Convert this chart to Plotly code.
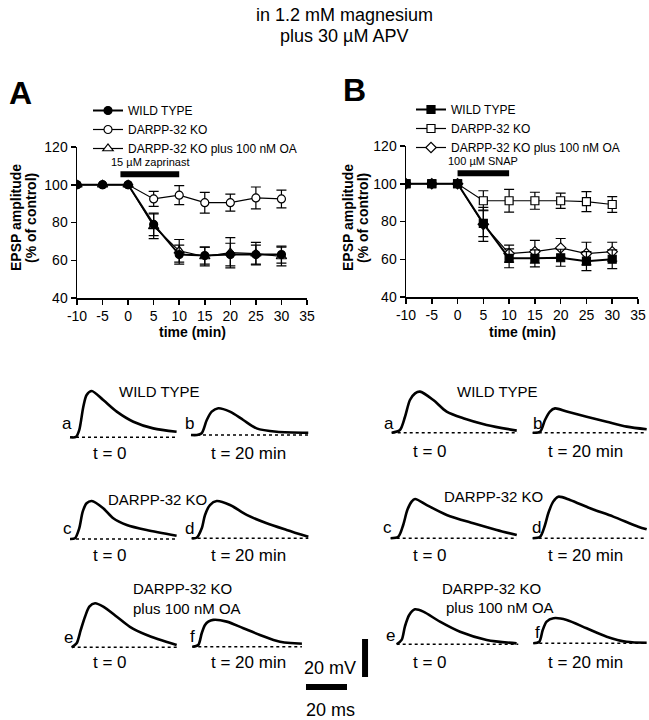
import plotly.graph_objects as go

W, H = 649, 720
FONT = "Liberation Sans, Arial, sans-serif"


def fx(p):
    return p / W


def fy(p):
    return 1 - p / H


# ---------------- summary data ----------------
time_min = [-10, -5, 0, 5, 10, 15, 20, 25, 30]
x_ticks = [-10, -5, 0, 5, 10, 15, 20, 25, 30, 35]
x_tick_labels = ["-10", "-5", "0", "5", "10", "15", "20", "25", "30", "35"]
y_ticks = [40, 60, 80, 100, 120]

A_wt = [100, 100, 100, 79, 63, 62.5, 63, 63, 63]
A_wt_err = [0, 0, 0, 6, 5, 4.5, 6, 5, 4.5]
A_ko = [100, 100, 100, 92.5, 94.5, 90.5, 90.5, 93, 92.5]
A_ko_err = [0, 0, 0, 4, 5, 5.5, 4.5, 5.8, 4.7]
A_oa = [100, 100, 100, 78, 65, 62, 64, 63.5, 62]
A_oa_err = [0, 0, 0, 6.5, 6, 5, 8, 6, 5]

B_wt = [100, 100, 100, 79, 60.5, 60.5, 60.8, 59, 60]
B_wt_err = [0, 0, 0, 7, 5, 4.5, 4.5, 5, 5]
B_ko = [100, 100, 100, 91, 91, 91, 91, 90.5, 89]
B_ko_err = [0, 0, 0, 5.3, 6, 4.5, 4, 5.3, 4.2]
B_oa = [100, 100, 100, 78.5, 63, 64, 66, 63, 64]
B_oa_err = [0, 0, 0, 9, 4.5, 6, 5, 6, 5]

series_names = ["WILD TYPE", "DARPP-32 KO", "DARPP-32 KO plus 100 nM OA"]
drug_A_label = "15 µM zaprinast"
drug_A_period = [-1.5, 10]
drug_B_label = "100 µM SNAP"
drug_B_period = [0, 10]
drug_bar_level = 105.5

# ---------------- EPSP traces (ms, mV) ----------------
A_a_t = [0, 2.9, 4.5, 6.5, 8.1, 10.6, 16.2, 22.8, 30.9, 40.6, 52.0]
A_a_v = [0, 0.2, 3.8, 16.1, 22.3, 24.4, 19.6, 13.5, 8.2, 4.7, 2.9]
A_b_t = [0, 2.9, 5.2, 7.7, 10.1, 13.3, 19.0, 25.5, 32.0, 41.8, 57.2]
A_b_v = [0, 0, 0.9, 7.9, 12.3, 14.1, 12.3, 7.9, 3.5, 1.7, 1.2]
A_c_t = [0, 2.4, 4.5, 6.2, 8.1, 10.6, 16.2, 21.1, 27.7, 37.4, 52.0]
A_c_v = [0, 0.4, 5.6, 14.4, 18.8, 20.0, 16.2, 10.9, 7.4, 4.7, 1.7]
A_d_t = [0, 2.4, 4.9, 6.5, 8.9, 12.2, 18.7, 26.8, 36.6, 46.3, 56.9]
A_d_v = [0, 0.3, 5.3, 12.3, 17.5, 19.6, 17.5, 12.3, 7.9, 4.4, 0.8]
A_e_t = [0, 2.4, 4.4, 6.5, 8.6, 11.4, 15.4, 22.0, 28.4, 36.6, 51.2]
A_e_v = [0, 2.1, 9.1, 16.1, 21.4, 23.2, 21.4, 16.1, 10.8, 6.5, 1.2]
A_f_t = [0, 2.9, 4.6, 6.2, 7.8, 10.2, 16.8, 24.9, 33.0, 42.8, 56.6]
A_f_v = [0, 0.9, 7.1, 11.4, 13.2, 14.1, 13.2, 9.7, 6.2, 2.6, 1.4]

B_a_t = [0, 4.0, 6.5, 8.9, 11.4, 13.8, 20.3, 26.8, 34.9, 46.3, 61.0]
B_a_v = [0, 1.4, 8.4, 17.2, 20.7, 21.6, 17.2, 11.1, 7.6, 4.1, 1.1]
B_b_t = [0, 3.6, 6.0, 8.4, 10.9, 16.6, 26.3, 36.1, 45.9, 55.6]
B_b_v = [0, 0.5, 6.7, 11.1, 12.8, 11.1, 8.4, 5.8, 3.2, 1.8]
B_c_t = [0, 3.7, 6.1, 8.1, 10.2, 11.9, 17.6, 27.3, 40.3, 51.7, 61.5]
B_c_v = [0, 0.8, 7.0, 14.9, 19.3, 20.7, 17.5, 12.3, 7.9, 4.4, 1.7]
B_d_t = [0, 3.6, 6.0, 7.6, 10.0, 12.5, 18.2, 28.0, 39.3, 51.5, 55.6]
B_d_v = [0, 0.8, 7.0, 13.2, 19.3, 21.9, 20.2, 15.8, 11.4, 6.1, 4.7]
B_e_t = [0, 2.4, 4.0, 6.1, 8.9, 13.0, 21.1, 30.9, 43.9, 58.5]
B_e_v = [0, 2.3, 9.3, 15.4, 18.4, 17.2, 11.9, 6.6, 2.3, 0.5]
B_f_t = [0, 2.9, 4.6, 6.5, 9.8, 16.3, 26.0, 35.8, 45.5, 55.3]
B_f_v = [0, 0.8, 7.0, 11.4, 13.2, 12.3, 7.9, 3.5, 0.8, 0.3]

baseline_end_ms = {
    "A_a": 52.0, "A_b": 57.2, "A_c": 52.0, "A_d": 56.9, "A_e": 51.5, "A_f": 56.6,
    "B_a": 61.5, "B_b": 55.6, "B_c": 61.5, "B_d": 55.6, "B_e": 59.3, "B_f": 55.3,
}
scale_ms = 20
scale_mv = 20

# ---------------- layout geometry (pixels) ----------------
PX_PER_MS = 2.05
PX_PER_MV = 1.9
trace_origin = {
    "A_a": (70, 437.3), "A_b": (191, 435), "A_c": (70, 539), "A_d": (191.7, 538.3),
    "A_e": (71.7, 647.3), "A_f": (192.3, 646.7),
    "B_a": (391.7, 432.7), "B_b": (532.7, 432.7), "B_c": (390.7, 538.3),
    "B_d": (532.7, 538.3), "B_e": (396.7, 644.3), "B_f": (533.3, 643.3),
}
trace_data = {
    "A_a": (A_a_t, A_a_v), "A_b": (A_b_t, A_b_v), "A_c": (A_c_t, A_c_v),
    "A_d": (A_d_t, A_d_v), "A_e": (A_e_t, A_e_v), "A_f": (A_f_t, A_f_v),
    "B_a": (B_a_t, B_a_v), "B_b": (B_b_t, B_b_v), "B_c": (B_c_t, B_c_v),
    "B_d": (B_d_t, B_d_v), "B_e": (B_e_t, B_e_v), "B_f": (B_f_t, B_f_v),
}

fig = go.Figure()
layout = {}

axis_common = dict(
    showline=True, linecolor="black", linewidth=1.5, ticks="outside", ticklen=5,
    tickwidth=1.5, tickcolor="black", showgrid=False, zeroline=False,
    tickfont=dict(family=FONT, size=14, color="black"),
)

layout["xaxis"] = dict(axis_common, domain=[fx(77), fx(307)], range=[-10, 35],
                       tickvals=x_ticks, ticktext=x_tick_labels, anchor="y")
layout["yaxis"] = dict(axis_common, domain=[fy(298), fy(147)], range=[40, 120],
                       tickvals=y_ticks, anchor="x")
layout["xaxis2"] = dict(axis_common, domain=[fx(406), fx(638)], range=[-10, 35],
                        tickvals=x_ticks, ticktext=x_tick_labels, anchor="y2")
layout["yaxis2"] = dict(axis_common, domain=[fy(297), fy(146)], range=[40, 120],
                        tickvals=y_ticks, anchor="x2")


def add_series(x, y, err, name, symbol, fill, xa, ya, leg, lw):
    fig.add_trace(go.Scatter(
        x=x, y=y, name=name, mode="lines+markers", xaxis=xa, yaxis=ya, legend=leg,
        line=dict(color="black", width=lw),
        marker=dict(symbol=symbol, size=8 if "triangle" not in symbol else 9,
                    color=fill, line=dict(color="black", width=1.2)),
        error_y=dict(type="data", array=err, color="black", thickness=1.2, width=5),
    ))


add_series(time_min, A_oa, A_oa_err, series_names[2], "triangle-up", "white", "x", "y", "legend", 1.2)
add_series(time_min, A_ko, A_ko_err, series_names[1], "circle", "white", "x", "y", "legend", 1.2)
add_series(time_min, A_wt, A_wt_err, series_names[0], "circle", "black", "x", "y", "legend", 2)
add_series(time_min, B_oa, B_oa_err, series_names[2], "diamond", "white", "x2", "y2", "legend2", 1.2)
add_series(time_min, B_ko, B_ko_err, series_names[1], "square", "white", "x2", "y2", "legend2", 1.2)
add_series(time_min, B_wt, B_wt_err, series_names[0], "square", "black", "x2", "y2", "legend2", 2)

# drug application bars
for per, xa, ya in [(drug_A_period, "x", "y"), (drug_B_period, "x2", "y2")]:
    fig.add_trace(go.Scatter(x=per, y=[drug_bar_level, drug_bar_level], mode="lines",
                             xaxis=xa, yaxis=ya, showlegend=False,
                             line=dict(color="black", width=6)))

# EPSP trace mini-panels
idx = 3
for key, (tt, vv) in trace_data.items():
    x0, y0 = trace_origin[key]
    end = baseline_end_ms[key]
    xmin, xmax = -1.5, end + 1.5
    right = x0 + xmax * PX_PER_MS
    if right > W:
        right = W
        xmax = (W - x0) / PX_PER_MS
    ymin, ymax = -3, 27
    layout[f"xaxis{idx}"] = dict(domain=[fx(x0 + xmin * PX_PER_MS), fx(right)],
                                 range=[xmin, xmax], visible=False, anchor=f"y{idx}")
    layout[f"yaxis{idx}"] = dict(domain=[fy(y0 - ymin * PX_PER_MV), fy(y0 - ymax * PX_PER_MV)],
                                 range=[ymin, ymax], visible=False, anchor=f"x{idx}")
    fig.add_trace(go.Scatter(x=[0, end], y=[0, 0], mode="lines", xaxis=f"x{idx}",
                             yaxis=f"y{idx}", showlegend=False,
                             line=dict(color="black", width=1.6, dash="dot")))
    fig.add_trace(go.Scatter(x=tt, y=vv, mode="lines", xaxis=f"x{idx}", yaxis=f"y{idx}",
                             showlegend=False,
                             line=dict(color="black", width=2.6, shape="spline", smoothing=0.8)))
    idx += 1

# scale bars
sx0, sy0 = 306, 687
layout[f"xaxis{idx}"] = dict(domain=[fx(sx0 - 2 * PX_PER_MS), fx(sx0 + 34 * PX_PER_MS)],
                             range=[-2, 34], visible=False, anchor=f"y{idx}")
layout[f"yaxis{idx}"] = dict(domain=[fy(sy0 + 4 * PX_PER_MV), fy(sy0 - 30 * PX_PER_MV)],
                             range=[-4, 30], visible=False, anchor=f"x{idx}")
fig.add_trace(go.Scatter(x=[0, scale_ms], y=[0, 0], mode="lines", xaxis=f"x{idx}",
                         yaxis=f"y{idx}", showlegend=False,
                         line=dict(color="black", width=6)))
fig.add_trace(go.Scatter(x=[28.8, 28.8], y=[5.3, 5.3 + scale_mv], mode="lines",
                         xaxis=f"x{idx}", yaxis=f"y{idx}", showlegend=False,
                         line=dict(color="black", width=6)))

# ---------------- annotations ----------------
anns = []


def ann(text, x, y, size, bold=False, xanchor="center", angle=0, xref="paper", yref="paper"):
    t = f"<b>{text}</b>" if bold else text
    anns.append(dict(text=t, x=x if xref != "paper" else fx(x),
                     y=y if yref != "paper" else fy(y),
                     xref=xref, yref=yref, xanchor=xanchor, yanchor="middle",
                     showarrow=False, textangle=angle,
                     font=dict(family=FONT, size=size, color="black")))


ann("in 1.2 mM magnesium", 344, 15, 18)
ann("plus 30 µM APV", 344, 36, 18)
ann("A", 20, 93, 32, bold=True)
ann("B", 354, 90, 32, bold=True)

for cx in (16, 348):
    ann("EPSP amplitude", cx, 218, 14, bold=True, angle=-90)
for cx in (31, 363):
    ann("(% of control)", cx, 218, 14, bold=True, angle=-90)
ann("time (min)", 192, 332, 14, bold=True)
ann("time (min)", 522, 332, 14, bold=True)

ann(drug_A_label, (drug_A_period[0] + drug_A_period[1]) / 2, 112, 11,
    xref="x", yref="y")
ann(drug_B_label, (drug_B_period[0] + drug_B_period[1]) / 2, 112, 11,
    xref="x2", yref="y2")

# trace labels, panel A
ann("WILD TYPE", 159, 392, 15)
ann("a", 67, 423, 17)
ann("b", 189, 423, 17)
ann("t = 0", 110, 453, 17)
ann("t = 20 min", 248, 453, 17)
ann("DARPP-32 KO", 157, 499, 15)
ann("c", 67, 528, 17)
ann("d", 189, 528, 17)
ann("t = 0", 110, 555, 17)
ann("t = 20 min", 248, 555, 17)
ann("DARPP-32 KO", 131, 588, 15, xanchor="left")
ann("plus 100 nM OA", 131, 608, 15, xanchor="left")
ann("e", 68, 637, 17)
ann("f", 192, 636, 17)
ann("t = 0", 110, 662, 17)
ann("t = 20 min", 248, 662, 17)

# trace labels, panel B
ann("WILD TYPE", 497, 392, 15)
ann("a", 389, 423, 17)
ann("b", 537, 423, 17)
ann("t = 0", 430, 451, 17)
ann("t = 20 min", 585, 451, 17)
ann("DARPP-32 KO", 493, 496, 15)
ann("c", 387, 527, 17)
ann("d", 536, 527, 17)
ann("t = 0", 430, 555, 17)
ann("t = 20 min", 585, 555, 17)
ann("DARPP-32 KO", 440, 588, 15, xanchor="left")
ann("plus 100 nM OA", 444, 607, 15, xanchor="left")
ann("e", 390, 635, 17)
ann("f", 537, 632, 17)
ann("t = 0", 430, 662, 17)
ann("t = 20 min", 585, 662, 17)

# scale bar labels
ann("20 mV", 330, 668, 18)
ann("20 ms", 330, 710, 18)

legend_common = dict(xanchor="left", yanchor="top", bgcolor="rgba(0,0,0,0)",
                     font=dict(family=FONT, size=12, color="black"),
                     itemwidth=30, traceorder="reversed", tracegroupgap=0)

fig.update_layout(
    width=W, height=H, autosize=False,
    margin=dict(l=0, r=0, t=0, b=0, pad=0, autoexpand=False),
    paper_bgcolor="white", plot_bgcolor="white",
    showlegend=True,
    legend=dict(legend_common, x=fx(88), y=fy(96)),
    legend2=dict(legend_common, x=fx(411), y=fy(95)),
    annotations=anns,
    hovermode=False,
    **layout,
)

fig.write_html(
    "out.html",
    config={"displayModeBar": False, "staticPlot": True},
    post_script="document.body.style.margin='0px';document.body.style.padding='0px';"
                "document.documentElement.style.overflow='hidden';",
)
